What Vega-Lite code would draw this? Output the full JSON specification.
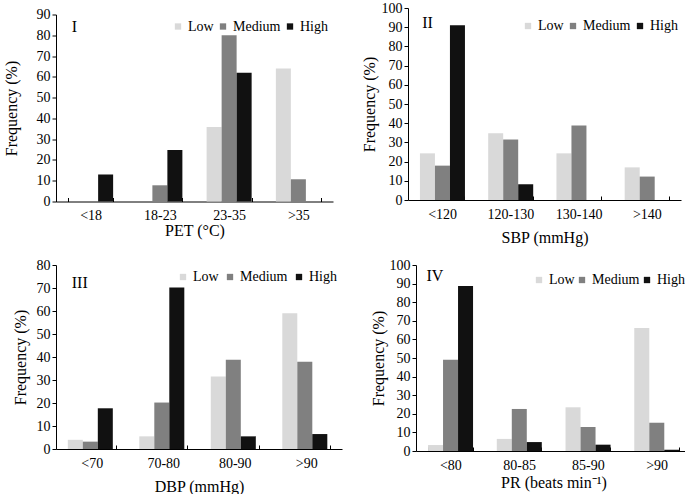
{
  "$schema": "https://vega.github.io/schema/vega-lite/v6.json",
  "padding": {"left": 3, "top": 1, "right": 0, "bottom": 0},
  "background": "white",
  "resolve": {"scale": {"color": "independent"}, "legend": {"color": "independent"}},
  "columns": 1,
  "align": "none",
  "spacing": 13,
  "concat": [
    {
      "spacing": 28,
      "center": true,
      "resolve": {"scale": {"color": "independent"}, "legend": {"color": "independent"}},
      "hconcat": [
        {
          "width": 277,
          "height": 187,
          "data": {"values": [
            {"cat": "<18", "level": "Low", "value": 0},
            {"cat": "<18", "level": "Medium", "value": 0},
            {"cat": "<18", "level": "High", "value": 13},
            {"cat": "18-23", "level": "Low", "value": 0},
            {"cat": "18-23", "level": "Medium", "value": 7.8},
            {"cat": "18-23", "level": "High", "value": 24.8},
            {"cat": "23-35", "level": "Low", "value": 35.8},
            {"cat": "23-35", "level": "Medium", "value": 80},
            {"cat": "23-35", "level": "High", "value": 62},
            {"cat": ">35", "level": "Low", "value": 64},
            {"cat": ">35", "level": "Medium", "value": 10.7},
            {"cat": ">35", "level": "High", "value": 0}
          ]},
          "layer": [
            {
              "mark": {"type": "bar"},
              "encoding": {
                "x": {"field": "cat", "type": "nominal", "scale": {"domain": ["<18", "18-23", "23-35", ">35"], "paddingInner": 0.35, "paddingOuter": 0.175}, "axis": {"title": "PET (°C)", "titlePadding": 0, "labelOverlap": false, "labelFlush": false}},
                "xOffset": {"field": "level", "type": "nominal", "sort": ["Low", "Medium", "High"], "scale": {"paddingInner": 0, "paddingOuter": 0}},
                "y": {"field": "value", "type": "quantitative", "scale": {"domain": [0, 90], "nice": false}, "axis": {"values": [0, 10, 20, 30, 40, 50, 60, 70, 80, 90], "labelOverlap": false, "title": "Frequency (%)", "titlePadding": 17}},
                "color": {"field": "level", "type": "nominal", "scale": {"domain": ["Low", "Medium", "High"], "range": ["#d9d9d9", "#808080", "#111111"]}, "legend": {"orient": "none", "legendX": 115, "legendY": 5, "direction": "horizontal", "title": null, "symbolType": "square", "symbolSize": 40, "symbolStrokeWidth": 0, "labelOffset": 3, "columnPadding": 2, "padding": 0, "labelFontSize": 14, "labelFont": "Liberation Serif"}}
              }
            },
            {
              "data": {"values": [{"label": "I"}]},
              "mark": {"type": "text", "align": "left", "baseline": "middle", "dx": -19, "fontSize": 16, "font": "Liberation Serif", "color": "#000"},
              "encoding": {
                "x": {"datum": "<18", "type": "nominal", "scale": {"domain": ["<18", "18-23", "23-35", ">35"], "paddingInner": 0.35, "paddingOuter": 0.175}, "axis": {"title": "PET (°C)", "titlePadding": 0, "labelOverlap": false, "labelFlush": false}},
                "y": {"datum": 84, "type": "quantitative", "scale": {"domain": [0, 90], "nice": false}, "axis": {"values": [0, 10, 20, 30, 40, 50, 60, 70, 80, 90], "labelOverlap": false, "title": "Frequency (%)", "titlePadding": 17}},
                "text": {"field": "label"}
              }
            }
          ]
        },
        {
          "width": 273,
          "height": 192,
          "data": {"values": [
            {"cat": "<120", "level": "Low", "value": 24.3},
            {"cat": "<120", "level": "Medium", "value": 17.9},
            {"cat": "<120", "level": "High", "value": 91},
            {"cat": "120-130", "level": "Low", "value": 34.8},
            {"cat": "120-130", "level": "Medium", "value": 31.5},
            {"cat": "120-130", "level": "High", "value": 8.2},
            {"cat": "130-140", "level": "Low", "value": 24.3},
            {"cat": "130-140", "level": "Medium", "value": 38.8},
            {"cat": "130-140", "level": "High", "value": 0},
            {"cat": ">140", "level": "Low", "value": 17},
            {"cat": ">140", "level": "Medium", "value": 12.2},
            {"cat": ">140", "level": "High", "value": 0}
          ]},
          "layer": [
            {
              "mark": {"type": "bar"},
              "encoding": {
                "x": {"field": "cat", "type": "nominal", "scale": {"domain": ["<120", "120-130", "130-140", ">140"], "paddingInner": 0.35, "paddingOuter": 0.175}, "axis": {"title": "SBP (mmHg)", "titlePadding": 8, "labelOverlap": false, "labelFlush": false}},
                "xOffset": {"field": "level", "type": "nominal", "sort": ["Low", "Medium", "High"], "scale": {"paddingInner": 0, "paddingOuter": 0}},
                "y": {"field": "value", "type": "quantitative", "scale": {"domain": [0, 100], "nice": false}, "axis": {"values": [0, 10, 20, 30, 40, 50, 60, 70, 80, 90, 100], "labelOverlap": false, "title": "Frequency (%)", "titlePadding": 4}},
                "color": {"field": "level", "type": "nominal", "scale": {"domain": ["Low", "Medium", "High"], "range": ["#d9d9d9", "#808080", "#111111"]}, "legend": {"orient": "none", "legendX": 113, "legendY": 11, "direction": "horizontal", "title": null, "symbolType": "square", "symbolSize": 40, "symbolStrokeWidth": 0, "labelOffset": 3, "columnPadding": 2, "padding": 0, "labelFontSize": 14, "labelFont": "Liberation Serif"}}
              }
            },
            {
              "data": {"values": [{"label": "II"}]},
              "mark": {"type": "text", "align": "left", "baseline": "middle", "dx": -20, "fontSize": 16, "font": "Liberation Serif", "color": "#000"},
              "encoding": {
                "x": {"datum": "<120", "type": "nominal", "scale": {"domain": ["<120", "120-130", "130-140", ">140"], "paddingInner": 0.35, "paddingOuter": 0.175}, "axis": {"title": "SBP (mmHg)", "titlePadding": 8, "labelOverlap": false, "labelFlush": false}},
                "y": {"datum": 92, "type": "quantitative", "scale": {"domain": [0, 100], "nice": false}, "axis": {"values": [0, 10, 20, 30, 40, 50, 60, 70, 80, 90, 100], "labelOverlap": false, "title": "Frequency (%)", "titlePadding": 4}},
                "text": {"field": "label"}
              }
            }
          ]
        }
      ]
    },
    {
      "spacing": 28,
      "resolve": {"scale": {"color": "independent"}, "legend": {"color": "independent"}},
      "hconcat": [
        {
          "width": 286,
          "height": 184,
          "data": {"values": [
            {"cat": "<70", "level": "Low", "value": 4},
            {"cat": "<70", "level": "Medium", "value": 3.2},
            {"cat": "<70", "level": "High", "value": 17.7},
            {"cat": "70-80", "level": "Low", "value": 5.5},
            {"cat": "70-80", "level": "Medium", "value": 20.2},
            {"cat": "70-80", "level": "High", "value": 70.2},
            {"cat": "80-90", "level": "Low", "value": 31.5},
            {"cat": "80-90", "level": "Medium", "value": 38.8},
            {"cat": "80-90", "level": "High", "value": 5.5},
            {"cat": ">90", "level": "Low", "value": 59},
            {"cat": ">90", "level": "Medium", "value": 37.9},
            {"cat": ">90", "level": "High", "value": 6.5}
          ]},
          "layer": [
            {
              "mark": {"type": "bar"},
              "encoding": {
                "x": {"field": "cat", "type": "nominal", "scale": {"domain": ["<70", "70-80", "80-90", ">90"], "paddingInner": 0.33, "paddingOuter": 0.165}, "axis": {"title": "DBP (mmHg)", "titlePadding": 8, "labelOverlap": false, "labelFlush": false}},
                "xOffset": {"field": "level", "type": "nominal", "sort": ["Low", "Medium", "High"], "scale": {"paddingInner": 0, "paddingOuter": 0}},
                "y": {"field": "value", "type": "quantitative", "scale": {"domain": [0, 80], "nice": false}, "axis": {"values": [0, 10, 20, 30, 40, 50, 60, 70, 80], "labelOverlap": false, "title": "Frequency (%)", "titlePadding": 8}},
                "color": {"field": "level", "type": "nominal", "scale": {"domain": ["Low", "Medium", "High"], "range": ["#d9d9d9", "#808080", "#111111"]}, "legend": {"orient": "none", "legendX": 120, "legendY": 5, "direction": "horizontal", "title": null, "symbolType": "square", "symbolSize": 40, "symbolStrokeWidth": 0, "labelOffset": 3, "columnPadding": 4, "padding": 0, "labelFontSize": 14, "labelFont": "Liberation Serif"}}
              }
            },
            {
              "data": {"values": [{"label": "III"}]},
              "mark": {"type": "text", "align": "left", "baseline": "middle", "dx": -20, "fontSize": 16, "font": "Liberation Serif", "color": "#000"},
              "encoding": {
                "x": {"datum": "<70", "type": "nominal", "scale": {"domain": ["<70", "70-80", "80-90", ">90"], "paddingInner": 0.33, "paddingOuter": 0.165}, "axis": {"title": "DBP (mmHg)", "titlePadding": 8, "labelOverlap": false, "labelFlush": false}},
                "y": {"datum": 72, "type": "quantitative", "scale": {"domain": [0, 80], "nice": false}, "axis": {"values": [0, 10, 20, 30, 40, 50, 60, 70, 80], "labelOverlap": false, "title": "Frequency (%)", "titlePadding": 8}},
                "text": {"field": "label"}
              }
            }
          ]
        },
        {
          "width": 275,
          "height": 186,
          "data": {"values": [
            {"cat": "<80", "level": "Low", "value": 3.2},
            {"cat": "<80", "level": "Medium", "value": 49.1},
            {"cat": "<80", "level": "High", "value": 88.7},
            {"cat": "80-85", "level": "Low", "value": 6.5},
            {"cat": "80-85", "level": "Medium", "value": 22.6},
            {"cat": "80-85", "level": "High", "value": 4.8},
            {"cat": "85-90", "level": "Low", "value": 23.5},
            {"cat": "85-90", "level": "Medium", "value": 12.9},
            {"cat": "85-90", "level": "High", "value": 3.4},
            {"cat": ">90", "level": "Low", "value": 66.1},
            {"cat": ">90", "level": "Medium", "value": 15.2},
            {"cat": ">90", "level": "High", "value": 0.7}
          ]},
          "layer": [
            {
              "mark": {"type": "bar"},
              "encoding": {
                "x": {"field": "cat", "type": "nominal", "scale": {"domain": ["<80", "80-85", "85-90", ">90"], "paddingInner": 0.35, "paddingOuter": 0.175}, "axis": {"title": "PR (beats min⁻¹)", "titlePadding": 2, "labelOverlap": false, "labelFlush": false}},
                "xOffset": {"field": "level", "type": "nominal", "sort": ["Low", "Medium", "High"], "scale": {"paddingInner": 0, "paddingOuter": 0}},
                "y": {"field": "value", "type": "quantitative", "scale": {"domain": [0, 100], "nice": false}, "axis": {"values": [0, 10, 20, 30, 40, 50, 60, 70, 80, 90, 100], "labelOverlap": false, "title": "Frequency (%)", "titlePadding": 3}},
                "color": {"field": "level", "type": "nominal", "scale": {"domain": ["Low", "Medium", "High"], "range": ["#d9d9d9", "#808080", "#111111"]}, "legend": {"orient": "none", "legendX": 116, "legendY": 8, "direction": "horizontal", "title": null, "symbolType": "square", "symbolSize": 40, "symbolStrokeWidth": 0, "labelOffset": 3, "columnPadding": 0, "padding": 0, "labelFontSize": 14, "labelFont": "Liberation Serif"}}
              }
            },
            {
              "data": {"values": [{"label": "IV"}]},
              "mark": {"type": "text", "align": "left", "baseline": "middle", "dx": -24, "fontSize": 16, "font": "Liberation Serif", "color": "#000"},
              "encoding": {
                "x": {"datum": "<80", "type": "nominal", "scale": {"domain": ["<80", "80-85", "85-90", ">90"], "paddingInner": 0.35, "paddingOuter": 0.175}, "axis": {"title": "PR (beats min⁻¹)", "titlePadding": 2, "labelOverlap": false, "labelFlush": false}},
                "y": {"datum": 94, "type": "quantitative", "scale": {"domain": [0, 100], "nice": false}, "axis": {"values": [0, 10, 20, 30, 40, 50, 60, 70, 80, 90, 100], "labelOverlap": false, "title": "Frequency (%)", "titlePadding": 3}},
                "text": {"field": "label"}
              }
            }
          ]
        }
      ]
    }
  ],
  "config": {
    "view": {"stroke": null},
    "font": "Liberation Serif",
    "axis": {
      "domainColor": "#000",
      "tickColor": "#000",
      "labelColor": "#000",
      "titleColor": "#000",
      "labelFont": "Liberation Serif",
      "titleFont": "Liberation Serif",
      "labelFontSize": 14,
      "titleFontSize": 16,
      "titleFontWeight": "normal",
      "grid": false,
      "domainWidth": 1,
      "tickWidth": 1,
      "labelOverlap": false
    },
    "axisX": {"labelAngle": 0, "tickBand": "extent", "tickSize": -4, "labelPadding": 11},
    "axisY": {"tickSize": 4, "labelPadding": 2}
  }
}
